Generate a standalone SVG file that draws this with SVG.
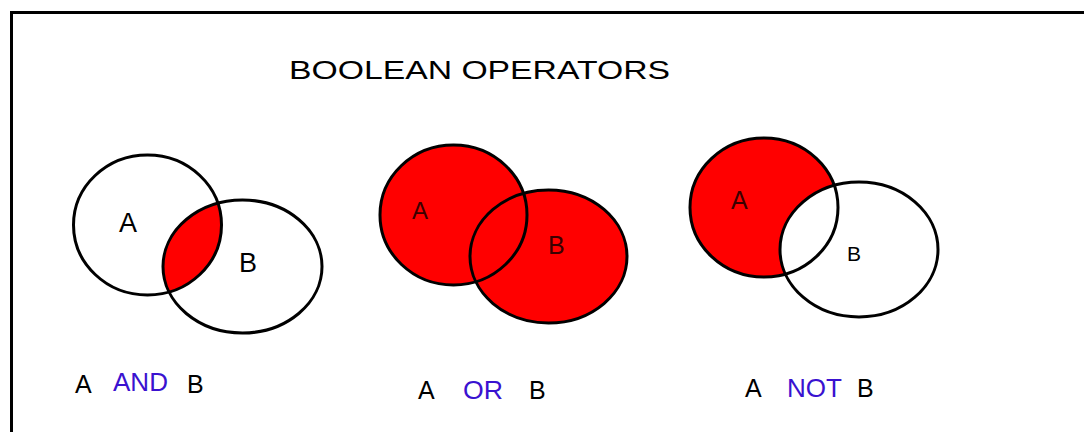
<svg xmlns="http://www.w3.org/2000/svg" width="1084" height="432" viewBox="0 0 1084 432">
<style>
.ring{fill:none;stroke:#000;stroke-width:3}
.lbl{font-family:"Liberation Sans",Arial,sans-serif;fill:#000}
.op{font-family:"Liberation Sans",Arial,sans-serif;fill:#3a12d0}
.dk{font-family:"Liberation Sans",Arial,sans-serif;fill:#3a0000}
.red{fill:#ff0000}
</style>
<defs>
<clipPath id="clipAndA"><ellipse cx="147.5" cy="225" rx="74" ry="70"/></clipPath>
</defs>
<rect width="1084" height="432" fill="#fff"/>
<path d="M11.5 432 V12.5 H1084" fill="none" stroke="#000" stroke-width="3"/>
<text class="lbl" x="289" y="79" font-size="26" textLength="381" lengthAdjust="spacingAndGlyphs">BOOLEAN OPERATORS</text>

<g id="and-diagram">
<ellipse cx="147.5" cy="225" rx="74" ry="70" fill="#fff"/>
<ellipse cx="242.5" cy="266.5" rx="79.5" ry="66.5" fill="#fff"/>
<ellipse class="red" cx="242.5" cy="266.5" rx="79.5" ry="66.5" clip-path="url(#clipAndA)"/>
<ellipse class="ring" cx="147.5" cy="225" rx="74" ry="70"/>
<ellipse class="ring" cx="242.5" cy="266.5" rx="79.5" ry="66.5"/>
<text class="lbl" x="119" y="232" font-size="27">A</text>
<text class="lbl" x="239" y="272" font-size="27">B</text>
</g>

<g id="or-diagram">
<ellipse class="red" cx="453.5" cy="215" rx="73.5" ry="70"/>
<ellipse class="red" cx="548.5" cy="256.5" rx="78.5" ry="66.5"/>
<ellipse class="ring" cx="453.5" cy="215" rx="73.5" ry="70"/>
<ellipse class="ring" cx="548.5" cy="256.5" rx="78.5" ry="66.5"/>
<text class="dk" x="412" y="219" font-size="24">A</text>
<text class="dk" x="548" y="254" font-size="25">B</text>
</g>

<g id="not-diagram">
<ellipse class="red" cx="764" cy="207.5" rx="74" ry="69.5"/>
<ellipse cx="859" cy="249.5" rx="79" ry="67.5" fill="#fff"/>
<ellipse class="ring" cx="764" cy="207.5" rx="74" ry="69.5"/>
<ellipse class="ring" cx="859" cy="249.5" rx="79" ry="67.5"/>
<text class="dk" x="731" y="209" font-size="25">A</text>
<text class="lbl" x="847" y="261" font-size="21">B</text>
</g>

<g id="captions">
<text class="lbl" x="75" y="393" font-size="25">A</text>
<text class="op" x="113" y="391" font-size="25" textLength="55" lengthAdjust="spacingAndGlyphs">AND</text>
<text class="lbl" x="187" y="393" font-size="25">B</text>
<text class="lbl" x="418" y="399" font-size="25">A</text>
<text class="op" x="463" y="399" font-size="25" textLength="40" lengthAdjust="spacingAndGlyphs">OR</text>
<text class="lbl" x="529" y="399" font-size="25">B</text>
<text class="lbl" x="745" y="397" font-size="25">A</text>
<text class="op" x="787" y="397" font-size="25" textLength="55" lengthAdjust="spacingAndGlyphs">NOT</text>
<text class="lbl" x="857" y="397" font-size="25">B</text>
</g>
</svg>
